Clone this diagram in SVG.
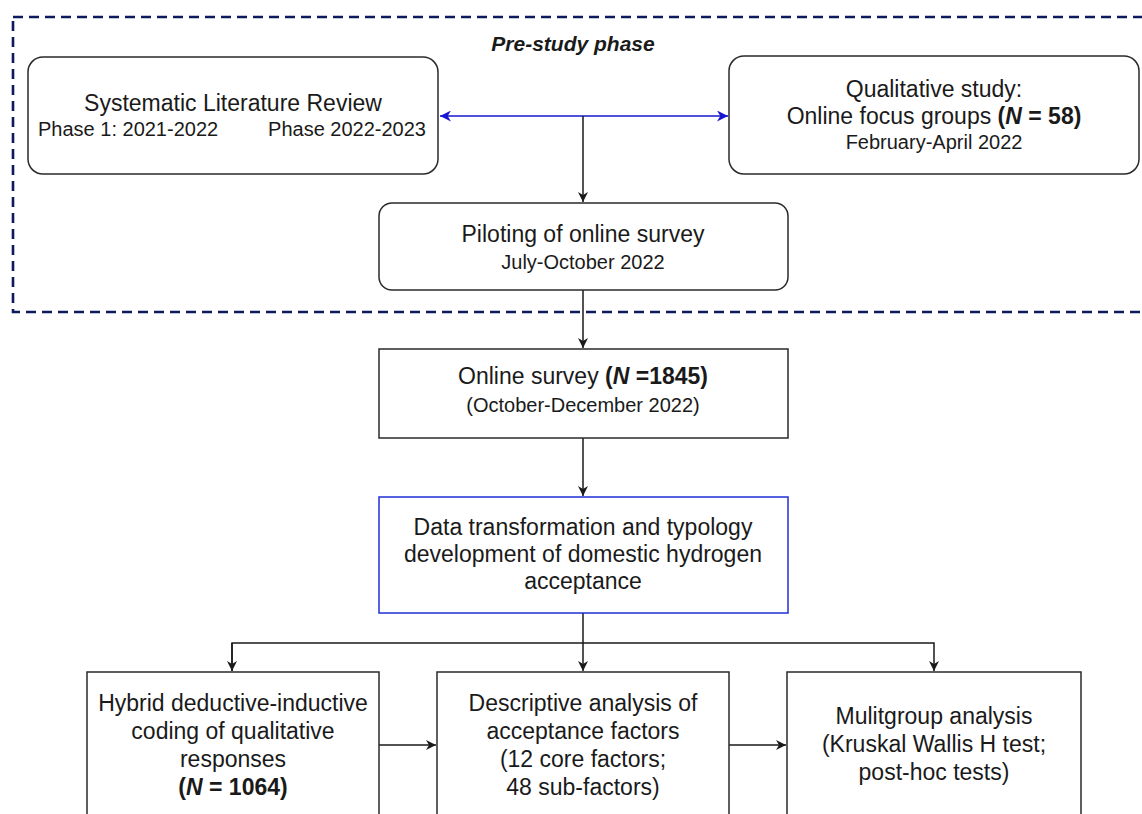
<svg xmlns="http://www.w3.org/2000/svg" width="1142" height="814" viewBox="0 0 1142 814">
<style>
text{font-family:"Liberation Sans",Arial,sans-serif;fill:#1a1a1a;text-anchor:middle}
.t{font-size:23px}
.s{font-size:20px}
.b{font-weight:bold}
.bi{font-weight:bold;font-style:italic}
.box{fill:#fff;stroke:#2a2a2a;stroke-width:1.5}
.blue{fill:#fff;stroke:#1f2fd6;stroke-width:1.5}
.c{fill:none;stroke:#1a1a1a;stroke-width:1.5}
.cb{fill:none;stroke:#1616d0;stroke-width:1.5}
</style>
<defs>
<marker id="ah" viewBox="0 0 10 10" refX="10" refY="5" markerWidth="10" markerHeight="10" markerUnits="userSpaceOnUse" orient="auto">
<path d="M0,0 L10,5 L0,10 L3,5 Z" fill="#1a1a1a"/>
</marker>
<marker id="ahb" viewBox="0 0 10 10" refX="10" refY="5" markerWidth="11" markerHeight="11" markerUnits="userSpaceOnUse" orient="auto-start-reverse">
<path d="M0,0 L10,5 L0,10 L3,5 Z" fill="#1616d0"/>
</marker>
</defs>
<rect width="1142" height="814" fill="#fff"/>
<g id="prestudy">
<rect x="13" y="17" width="1160" height="295" fill="none" stroke="#0b1a5e" stroke-width="2.6" stroke-dasharray="10 6"/>
<text x="573" y="51" class="bi" style="font-size:21px">Pre-study phase</text>
</g>
<g id="connectors">
<line x1="440" y1="116" x2="728" y2="116" class="cb" marker-start="url(#ahb)" marker-end="url(#ahb)"/>
<line x1="583" y1="116" x2="583" y2="202" class="c" marker-end="url(#ah)"/>
<line x1="583" y1="290" x2="583" y2="348" class="c" marker-end="url(#ah)"/>
<line x1="583" y1="438" x2="583" y2="496" class="c" marker-end="url(#ah)"/>
<line x1="583" y1="613" x2="583" y2="671" class="c" marker-end="url(#ah)"/>
<polyline points="232,671 232,643 934,643 934,671" class="c" marker-end="url(#ah)"/>
<line x1="232" y1="643" x2="232" y2="671" class="c" marker-end="url(#ah)"/>
<line x1="379" y1="745" x2="436" y2="745" class="c" marker-end="url(#ah)"/>
<line x1="729" y1="745" x2="786" y2="745" class="c" marker-end="url(#ah)"/>
</g>
<g id="slr">
<rect x="28" y="57" width="410" height="117" rx="15" class="box"/>
<text x="233" y="111" class="t">Systematic Literature Review</text>
<text x="38" y="136" class="s" style="text-anchor:start">Phase 1: 2021-2022</text>
<text x="426" y="136" class="s" style="text-anchor:end">Phase 2022-2023</text>
</g>
<g id="qualitative">
<rect x="729" y="56" width="410" height="118" rx="15" class="box"/>
<text x="934" y="97" class="t">Qualitative study:</text>
<text x="934" y="124" class="t">Online focus groups <tspan class="b">(<tspan class="bi">N</tspan> = 58)</tspan></text>
<text x="934" y="149" class="s">February-April 2022</text>
</g>
<g id="piloting">
<rect x="379" y="203" width="409" height="87" rx="13" class="box"/>
<text x="583" y="242" class="t">Piloting of online survey</text>
<text x="583" y="269" class="s">July-October 2022</text>
</g>
<g id="survey">
<rect x="379" y="349" width="409" height="89" class="box"/>
<text x="583" y="384" class="t">Online survey <tspan class="b">(<tspan class="bi">N</tspan> =1845)</tspan></text>
<text x="583" y="412" class="s">(October-December 2022)</text>
</g>
<g id="transformation">
<rect x="379" y="497" width="409" height="116" class="blue"/>
<text x="583" y="535" class="t">Data transformation and typology</text>
<text x="583" y="562" class="t">development of domestic hydrogen</text>
<text x="583" y="589" class="t">acceptance</text>
</g>
<g id="coding">
<rect x="87" y="672" width="292" height="170" class="box"/>
<text x="233" y="711" class="t">Hybrid deductive-inductive</text>
<text x="233" y="739" class="t">coding of qualitative</text>
<text x="233" y="767" class="t">responses</text>
<text x="233" y="795" class="t b">(<tspan class="bi">N</tspan> = 1064)</text>
</g>
<g id="descriptive">
<rect x="437" y="672" width="292" height="170" class="box"/>
<text x="583" y="711" class="t">Descriptive analysis of</text>
<text x="583" y="739" class="t">acceptance factors</text>
<text x="583" y="767" class="t">(12 core factors;</text>
<text x="583" y="795" class="t">48 sub-factors)</text>
</g>
<g id="multigroup">
<rect x="787" y="672" width="294" height="170" class="box"/>
<text x="934" y="724" class="t">Mulitgroup analysis</text>
<text x="934" y="752" class="t">(Kruskal Wallis H test;</text>
<text x="934" y="780" class="t">post-hoc tests)</text>
</g>
</svg>
